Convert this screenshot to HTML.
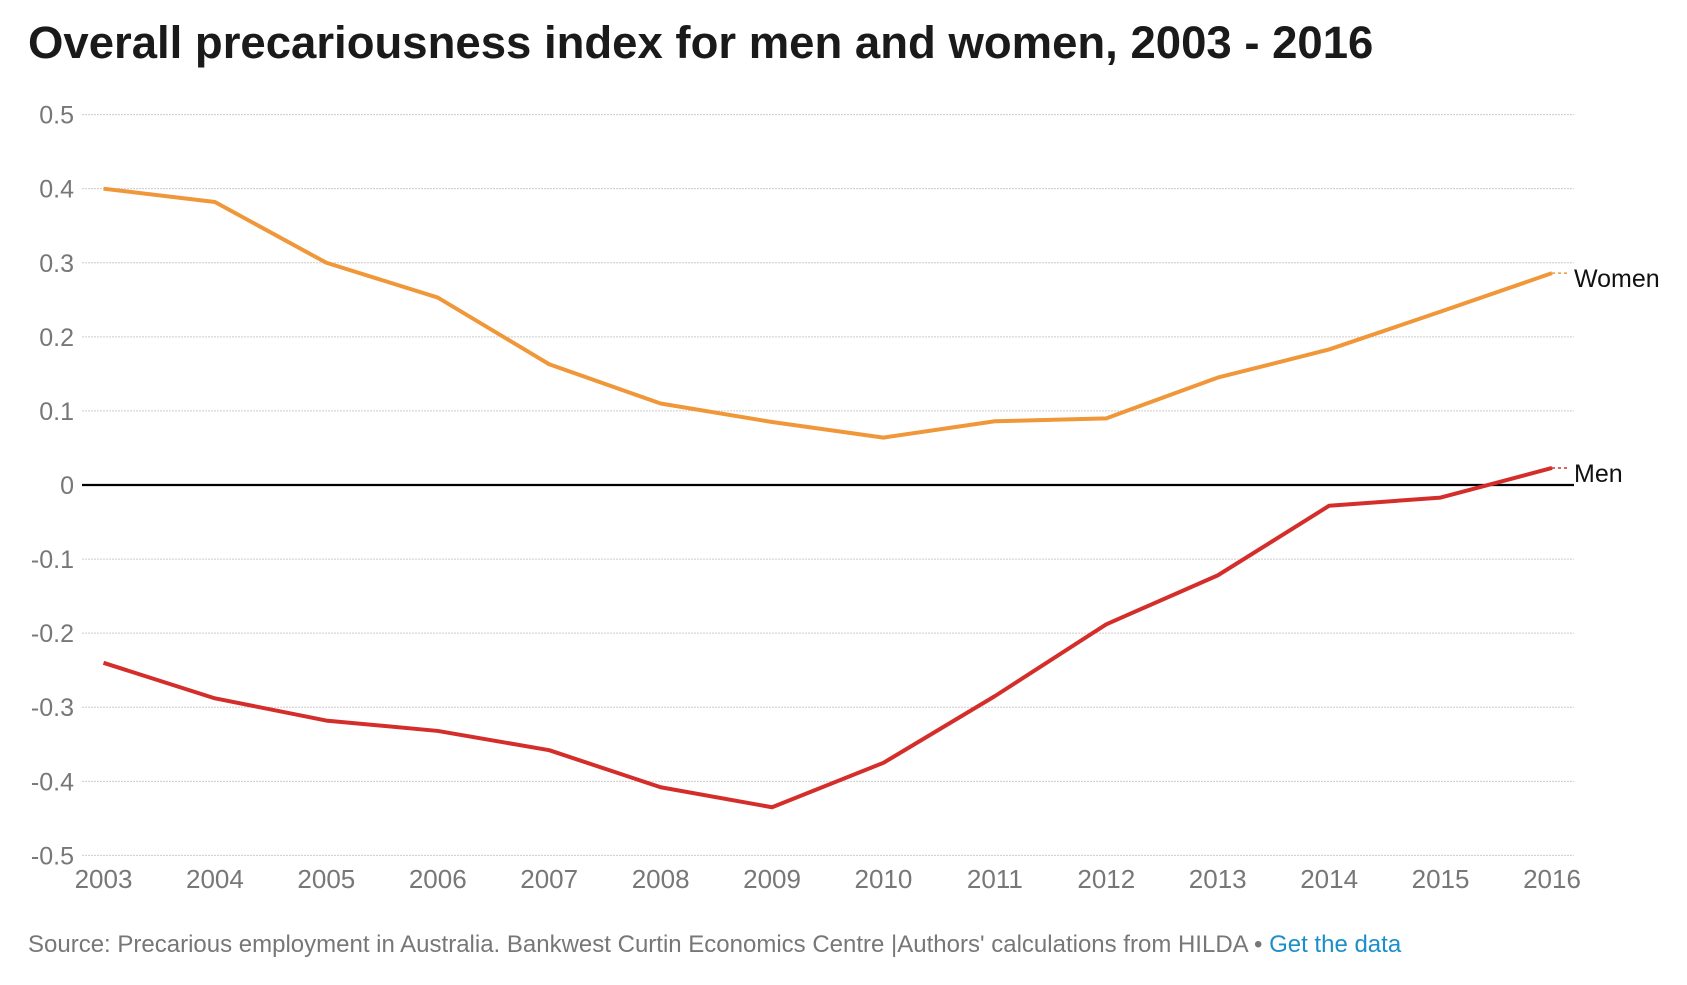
<!DOCTYPE html>
<html><head><meta charset="utf-8"><style>
body{margin:0;background:#fff;width:1687px;height:980px;overflow:hidden;font-family:"Liberation Sans",sans-serif}
</style></head><body>
<svg width="1687" height="980">
<text x="28" y="58" font-size="45.5" font-weight="bold" fill="#1a1a1a">Overall precariousness index for men and women, 2003 - 2016</text>
<g id="grid"></g><g id="lines"></g>
<text x="28" y="952" font-size="24" fill="#777">Source: Precarious employment in Australia. Bankwest Curtin Economics Centre |Authors' calculations from HILDA • <tspan fill="#1a8fc9">Get the data</tspan></text>
</svg>
<script>
const years=[2003,2004,2005,2006,2007,2008,2009,2010,2011,2012,2013,2014,2015,2016];
const women=[0.40,0.382,0.30,0.253,0.163,0.11,0.085,0.064,0.086,0.09,0.145,0.183,0.234,0.286];
const men=[-0.24,-0.288,-0.318,-0.332,-0.358,-0.408,-0.435,-0.375,-0.285,-0.188,-0.122,-0.028,-0.017,0.023];
const yTicks=[0.5,0.4,0.3,0.2,0.1,0,-0.1,-0.2,-0.3,-0.4,-0.5];
const NS='http://www.w3.org/2000/svg';
const x=i=>103.5+(1552-103.5)*i/(years.length-1);
const y=v=>114.6+(0.5-v)/1.0*(855.4-114.6);
const g=document.getElementById('grid'),L=document.getElementById('lines');
function mk(t,a,p){const e=document.createElementNS(NS,t);for(const k in a)e.setAttribute(k,a[k]);p.appendChild(e);return e;}
yTicks.forEach(v=>{
 const ln=mk('line',{x1:82,x2:1574,y1:y(v),y2:y(v),stroke:v===0?'#000':'#ccc','stroke-width':v===0?2.2:1,'stroke-dasharray':v===0?'':'2,1'},g);
 
 
 const t=mk('text',{x:74,y:y(v)+9,'text-anchor':'end','font-size':25,fill:'#777'},g);t.textContent=v===0?'0':String(v);
 
 
});
years.forEach((yr,i)=>{
 const t=mk('text',{x:x(i),y:888,'text-anchor':'middle','font-size':26,fill:'#777'},g);t.textContent=yr;
 
 
});
function series(d,c,name,label){
 const p=mk('polyline',{points:d.map((v,i)=>x(i)+','+y(v)).join(' '),fill:'none',stroke:c,'stroke-width':4,'stroke-linejoin':'round'},L);
 
 
 const n=d.length-1,ly=y(d[n]);
 const ld=mk('line',{x1:x(n),x2:1570,y1:ly,y2:ly,stroke:c,'stroke-width':1.5,'stroke-dasharray':'3,3'},L);
 
 
 const t=mk('text',{x:1574,y:ly+14,'font-size':25,fill:'#111'},L);t.textContent=label;
 
 
}
series(women,'#f0973a','women','Women');
series(men,'#d42e2a','men','Men');
</script>
</body></html>
